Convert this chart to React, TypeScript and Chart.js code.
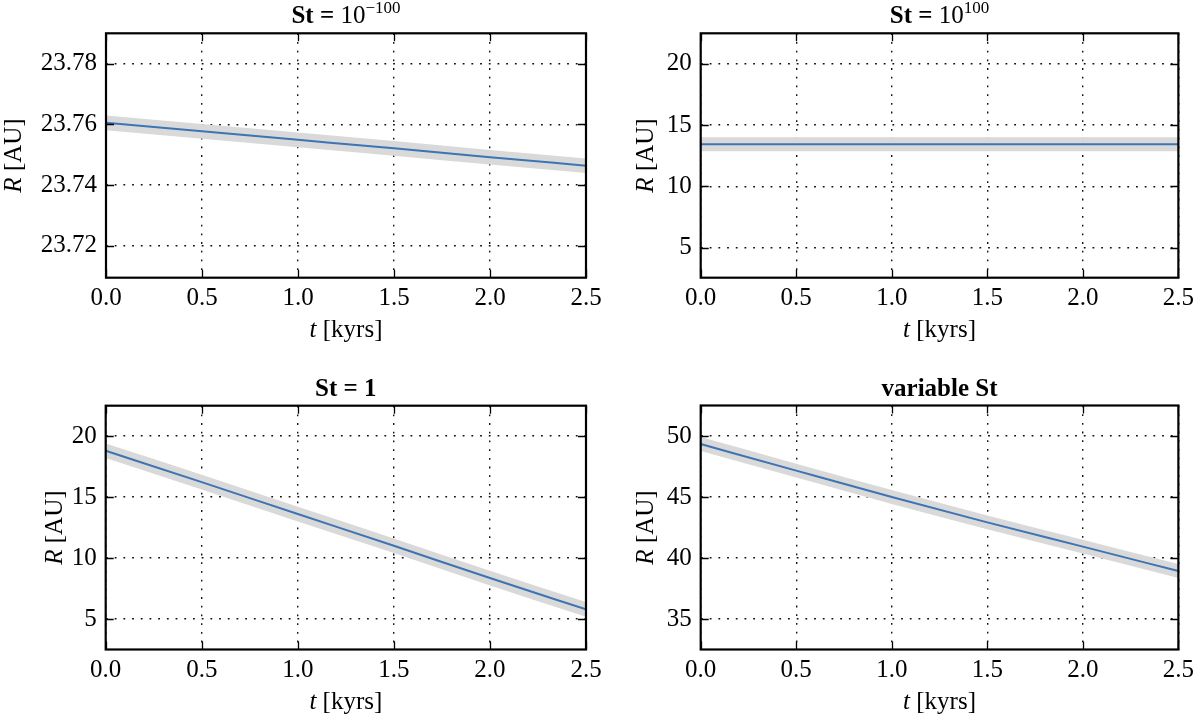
import React, { useEffect, useRef } from "react";
import { Chart, registerables } from "chart.js";

Chart.register(...registerables);

// ---------- data ----------
const tKyrs = [0, 0.5, 1.0, 1.5, 2.0, 2.5];
const xTicks = [0, 0.5, 1.0, 1.5, 2.0, 2.5];

const rStTiny = [23.7605, 23.7577, 23.7549, 23.7521, 23.7492, 23.7464];
const rStHuge = [13.45, 13.45, 13.45, 13.45, 13.45, 13.45];
const rStOne = [18.8, 16.23, 13.61, 11.01, 8.36, 5.79];
const rStVar = [49.34, 47.16, 45.0, 42.92, 40.93, 38.93];

const bandTiny = 0.0024;
const bandHuge = 0.57;
const bandOne = 0.6;
const bandVar = 0.57;

const yTicksTiny = [23.72, 23.74, 23.76, 23.78];
const yTicksHuge = [5, 10, 15, 20];
const yTicksOne = [5, 10, 15, 20];
const yTicksVar = [35, 40, 45, 50];

const rangeTiny = [23.7095, 23.79];
const rangeHuge = [2.55, 22.5];
const rangeOne = [2.5, 22.5];
const rangeVar = [32.5, 52.5];

// ---------- style ----------
const W = 1200;
const H = 722;
const FAMILY = "'Liberation Serif', 'DejaVu Serif', serif";
const FS = 25;
const LINE_COLOR = "#3d74b3";
const BAND_COLOR = "#d9d9d9";

type Run = { text: string; bold?: boolean; italic?: boolean; size?: number; rise?: number };

function fontOf(r: Run) {
  return `${r.italic ? "italic " : ""}${r.bold ? "bold " : ""}${r.size || FS}px ${FAMILY}`;
}

function drawRuns(ctx: CanvasRenderingContext2D, runs: Run[], cx: number, baseline: number) {
  const widths = runs.map((r) => {
    ctx.font = fontOf(r);
    return ctx.measureText(r.text).width;
  });
  const total = widths.reduce((a, b) => a + b, 0);
  let x = cx - total / 2;
  ctx.textAlign = "left";
  ctx.textBaseline = "alphabetic";
  runs.forEach((r, i) => {
    ctx.font = fontOf(r);
    ctx.fillText(r.text, x, baseline - (r.rise || 0));
    x += widths[i];
  });
}

type Area = { left: number; top: number; right: number; bottom: number };

type PanelProps = {
  values: number[];
  band: number;
  yTicks: number[];
  range: number[];
  decimals: number;
  area: Area;
  title: Run[];
  yLabelBaselineX: number;
};

function Panel({ values, band, yTicks, range, decimals, area, title, yLabelBaselineX }: PanelProps) {
  const ref = useRef<HTMLCanvasElement>(null);

  useEffect(() => {
    const canvas = ref.current!;
    const pts = (arr: number[]) => tKyrs.map((t, i) => ({ x: t, y: arr[i] }));
    const upper = values.map((v) => v + band);
    const lower = values.map((v) => v - band);

    const overlay = {
      id: "overlay",
      afterDraw(chart: any) {
        const ctx: CanvasRenderingContext2D = chart.ctx;
        const a = chart.chartArea;
        const xs = chart.scales.x;
        const ys = chart.scales.y;
        ctx.save();
        ctx.strokeStyle = "#000";
        ctx.lineWidth = 1.3;
        ctx.beginPath();
        xs.ticks.forEach((t: any) => {
          const px = Math.round(xs.getPixelForValue(t.value)) + 0.5;
          ctx.moveTo(px, a.bottom);
          ctx.lineTo(px, a.bottom - 8);
          ctx.moveTo(px, a.top);
          ctx.lineTo(px, a.top + 8);
        });
        ys.ticks.forEach((t: any) => {
          const py = Math.round(ys.getPixelForValue(t.value)) + 0.5;
          ctx.moveTo(a.left, py);
          ctx.lineTo(a.left + 8, py);
          ctx.moveTo(a.right, py);
          ctx.lineTo(a.right - 8, py);
        });
        ctx.stroke();
        ctx.lineWidth = 2.2;
        ctx.strokeRect(a.left, a.top, a.right - a.left, a.bottom - a.top);

        ctx.fillStyle = "#000";
        const cx = (a.left + a.right) / 2;
        drawRuns(ctx, title, cx, a.top - 10);
        drawRuns(ctx, [{ text: "t", italic: true }, { text: " [kyrs]" }], cx, a.bottom + 59);

        ctx.save();
        ctx.translate(yLabelBaselineX, (a.top + a.bottom) / 2);
        ctx.rotate(-Math.PI / 2);
        drawRuns(ctx, [{ text: "R", italic: true }, { text: " [AU]" }], 0, 0);
        ctx.restore();
        ctx.restore();
      },
    };

    const tickFont = { family: FAMILY, size: FS };

    const chart = new Chart(canvas, {
      type: "line",
      data: {
        datasets: [
          {
            data: pts(values),
            borderColor: LINE_COLOR,
            borderWidth: 2,
            pointRadius: 0,
            fill: false,
            cubicInterpolationMode: "monotone",
          },
          {
            data: pts(upper),
            borderWidth: 0,
            borderColor: "rgba(0,0,0,0)",
            pointRadius: 0,
            fill: false,
            cubicInterpolationMode: "monotone",
          },
          {
            data: pts(lower),
            borderWidth: 0,
            borderColor: "rgba(0,0,0,0)",
            backgroundColor: BAND_COLOR,
            pointRadius: 0,
            fill: "-1",
            cubicInterpolationMode: "monotone",
          },
        ],
      },
      options: {
        animation: false,
        responsive: false,
        events: [],
        layout: { padding: { left: 0, top: area.top, right: W - area.right, bottom: 0 } },
        plugins: {
          legend: { display: false },
          tooltip: { enabled: false },
          title: { display: false },
        },
        scales: {
          x: {
            type: "linear",
            min: 0,
            max: 2.5,
            afterBuildTicks: (s: any) => {
              s.ticks = xTicks.map((v) => ({ value: v }));
            },
            afterFit: (s: any) => {
              s.height = H - area.bottom;
            },
            ticks: {
              padding: 6,
              font: tickFont,
              color: "#000",
              maxRotation: 0,
              autoSkip: false,
              callback: (v: any) => Number(v).toFixed(1),
            },
            grid: { color: "#111", lineWidth: 1.4, drawTicks: false },
            border: { display: false, dash: [1.8, 6.9] },
          },
          y: {
            type: "linear",
            min: range[0],
            max: range[1],
            afterBuildTicks: (s: any) => {
              s.ticks = yTicks.map((v) => ({ value: v }));
            },
            afterFit: (s: any) => {
              s.width = area.left;
            },
            ticks: {
              padding: 9,
              font: tickFont,
              color: "#000",
              autoSkip: false,
              callback: (v: any) => Number(v).toFixed(decimals),
            },
            grid: { color: "#111", lineWidth: 1.4, drawTicks: false },
            border: { display: false, dash: [1.8, 6.9] },
          },
        },
      } as any,
      plugins: [overlay],
    });
    return () => chart.destroy();
  }, []);

  return (
    <canvas
      ref={ref}
      width={W}
      height={H}
      style={{ position: "absolute", left: 0, top: 0, width: W, height: H }}
    />
  );
}

export default function App() {
  return (
    <div style={{ position: "absolute", left: 0, top: 0, width: W, height: H, background: "#fff", overflow: "hidden" }}>
      <Panel
        values={rStTiny}
        band={bandTiny}
        yTicks={yTicksTiny}
        range={rangeTiny}
        decimals={2}
        area={{ left: 106, top: 33.3, right: 586, bottom: 277.7 }}
        title={[
          { text: "St = ", bold: true },
          { text: "10" },
          { text: "\u2212100", size: 17, rise: 10 },
        ]}
        yLabelBaselineX={21}
      />
      <Panel
        values={rStHuge}
        band={bandHuge}
        yTicks={yTicksHuge}
        range={rangeHuge}
        decimals={0}
        area={{ left: 700.7, top: 33.3, right: 1180, bottom: 277.7 }}
        title={[
          { text: "St = ", bold: true },
          { text: "10" },
          { text: "100", size: 17, rise: 10 },
        ]}
        yLabelBaselineX={653}
      />
      <Panel
        values={rStOne}
        band={bandOne}
        yTicks={yTicksOne}
        range={rangeOne}
        decimals={0}
        area={{ left: 105.7, top: 405.7, right: 586, bottom: 649.5 }}
        title={[{ text: "St = 1", bold: true }]}
        yLabelBaselineX={62}
      />
      <Panel
        values={rStVar}
        band={bandVar}
        yTicks={yTicksVar}
        range={rangeVar}
        decimals={0}
        area={{ left: 700.7, top: 405.5, right: 1180, bottom: 649.5 }}
        title={[{ text: "variable St", bold: true }]}
        yLabelBaselineX={653}
      />
    </div>
  );
}
